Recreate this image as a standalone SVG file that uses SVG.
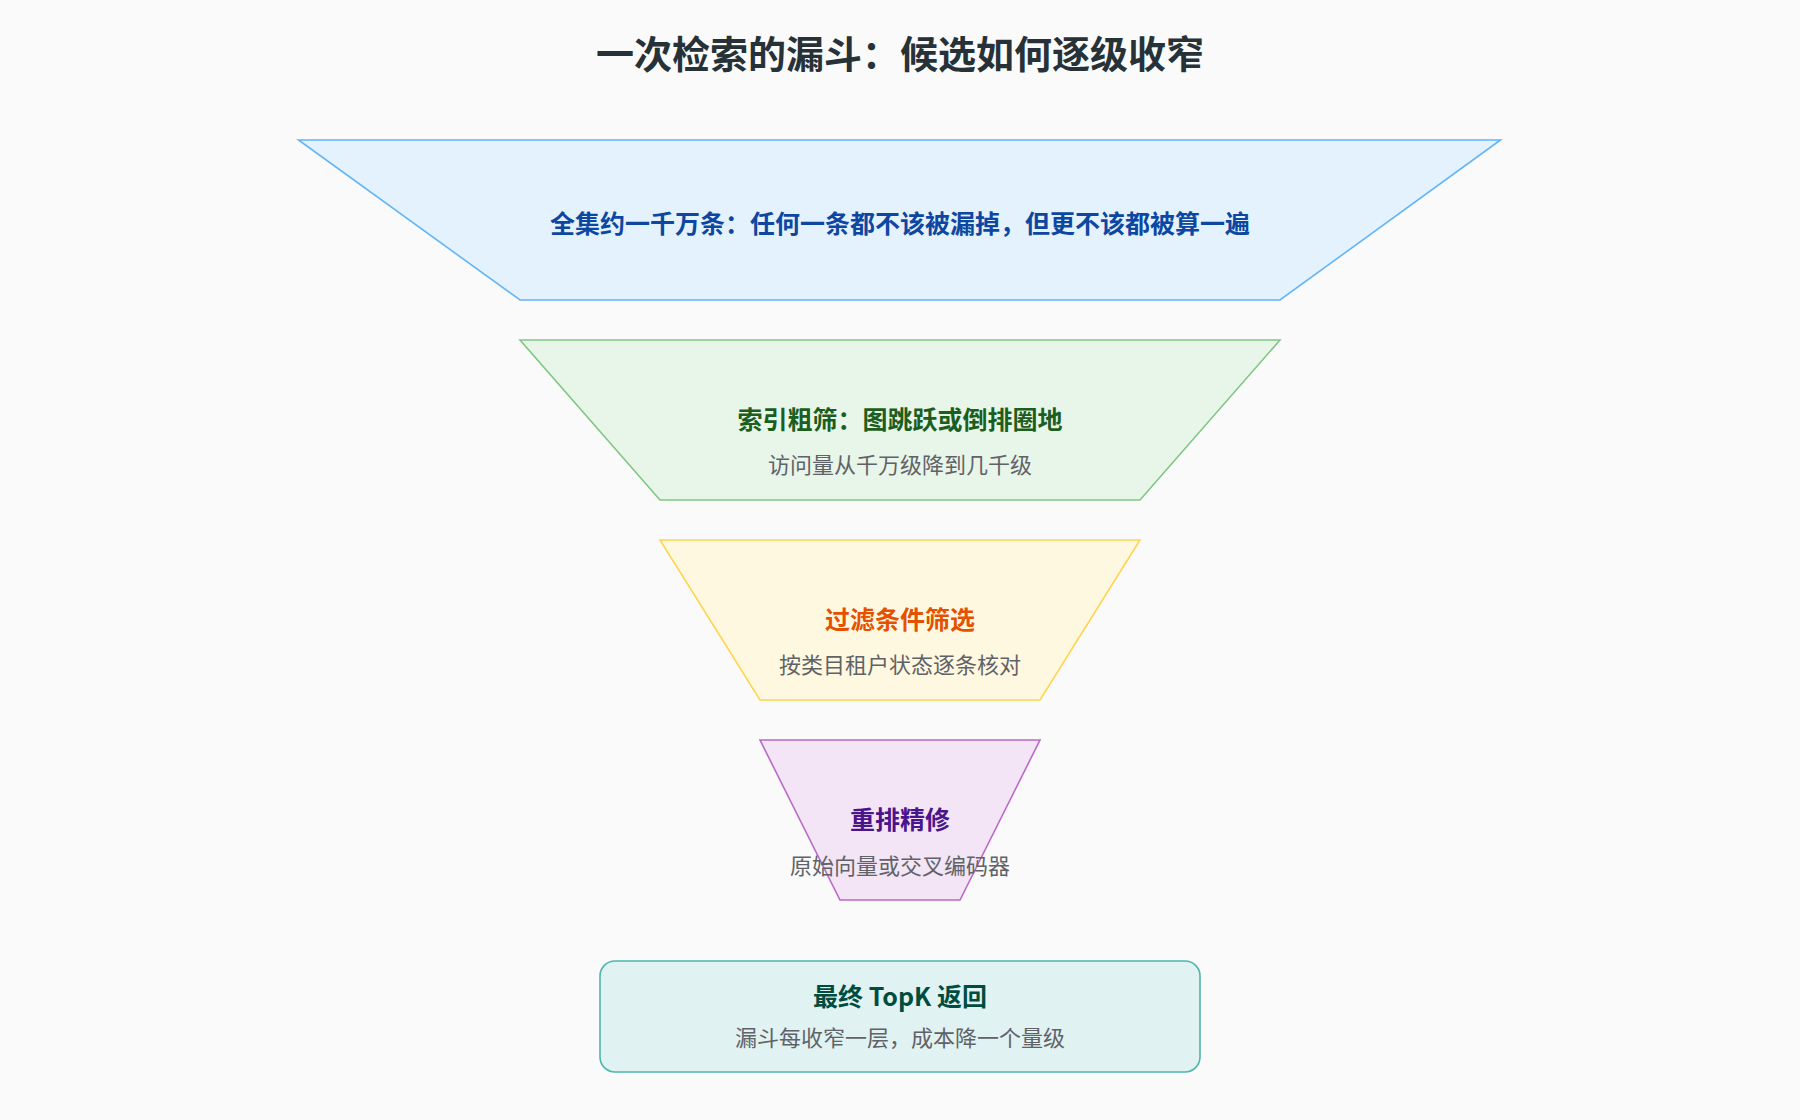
<svg xmlns="http://www.w3.org/2000/svg" width="1800" height="1120" viewBox="0 0 1800 1120">
<style>
text{font-family:"Noto Sans CJK SC","Noto Sans",sans-serif;text-anchor:middle;dominant-baseline:middle}
.t{font-size:25px;font-weight:bold}
.s{font-size:22px;fill:#5f6368}
.st{stroke-width:1.6}
</style>
<rect width="1800" height="1120" fill="#fafafa"/>
<text x="900" y="58" font-size="38" font-weight="bold" fill="#263238">一次检索的漏斗：候选如何逐级收窄</text>
<g id="layer1">
<polygon class="st" points="298.5,140 1500.5,140 1280,300 520,300" fill="#e3f2fd" stroke="#64b5f6"/>
<text class="t" x="900" y="226" fill="#0d47a1">全集约一千万条：任何一条都不该被漏掉，但更不该都被算一遍</text>
</g>
<g id="layer2">
<polygon class="st" points="520,340 1280,340 1140,500 660,500" fill="#e8f5e9" stroke="#81c784"/>
<text class="t" x="900" y="422" fill="#1b5e20">索引粗筛：图跳跃或倒排圈地</text>
<text class="s" x="900" y="467">访问量从千万级降到几千级</text>
</g>
<g id="layer3">
<polygon class="st" points="660,540 1140,540 1040,700 760,700" fill="#fff8e1" stroke="#ffd54f"/>
<text class="t" x="900" y="622" fill="#e65100">过滤条件筛选</text>
<text class="s" x="900" y="667">按类目租户状态逐条核对</text>
</g>
<g id="layer4">
<polygon class="st" points="760,740 1040,740 960,900 840,900" fill="#f3e5f5" stroke="#ba68c8"/>
<text class="t" x="900" y="822" fill="#4a148c">重排精修</text>
<text class="s" x="900" y="868">原始向量或交叉编码器</text>
</g>
<g id="result">
<rect class="st" x="600" y="961" width="600" height="111" rx="15" fill="#e0f2f1" stroke="#4db6ac"/>
<text class="t" x="900" y="999" fill="#004d40">最终 TopK 返回</text>
<text class="s" x="900" y="1040">漏斗每收窄一层，成本降一个量级</text>
</g>
<g id="connectors"/>
</svg>
